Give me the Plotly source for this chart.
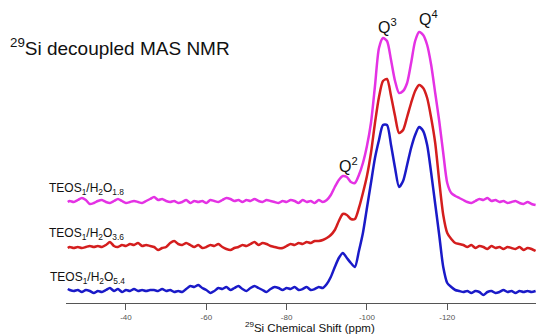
import plotly.graph_objects as go

# chemical shift grid (ppm)
shift_ppm = [-25.5, -26, -27, -28, -29, -30, -31, -32, -33, -34, -35, -36, -37, -38, -39, -40,
             -41, -42, -43, -44, -45, -46, -47, -48, -49, -50, -51, -52, -53, -54, -55, -56,
             -57, -58, -59, -60, -61, -62, -63, -64, -65, -66, -67, -68, -69, -70, -71, -72,
             -73, -74, -75, -76, -77, -78, -79, -80, -81, -82, -83, -84, -85, -86, -87, -88,
             -89, -90, -91, -92, -93, -94, -95, -96, -97, -98, -99, -100, -101, -102, -103, -104,
             -105, -106, -107, -108, -109, -110, -111, -112, -113, -114, -115, -116, -117, -118, -119, -120,
             -121, -122, -123, -124, -125, -126, -127, -128, -129, -130, -131, -132, -133, -134, -135, -136,
             -137, -138, -139, -140, -141, -142]

# intensities (stacked, arbitrary units including vertical offset)
teos_h2o_1_8 = [101, 102, 101, 103, 105, 103, 99, 100, 102, 103, 101, 100, 102, 104, 102, 100,
                101, 102, 101, 100, 102, 104, 106, 103, 104, 102, 101, 102, 100, 101, 103, 100,
                102, 101, 102, 100, 103, 102, 101, 103, 105, 104, 102, 103, 101, 103, 102, 104,
                102, 101, 103, 102, 101, 100, 102, 101, 103, 102, 100, 103, 101, 102, 100, 103,
                101, 103, 108, 116, 123, 127, 126, 121, 120, 128, 140, 157, 180, 217, 255, 265,
                262, 243, 222, 210, 212, 220, 240, 262, 271, 268, 258, 238, 210, 182, 150, 120,
                110, 107, 105, 103, 101, 100, 102, 104, 103, 105, 102, 103, 101, 102, 100, 101,
                102, 100, 99, 101, 99, 98]

teos_h2o_3_6 = [55, 56, 55, 56, 55, 56, 57, 56, 57, 56, 58, 61, 57, 56, 58, 57,
                59, 58, 60, 57, 58, 57, 56, 53, 55, 56, 60, 62, 59, 58, 60, 58,
                56, 58, 55, 56, 58, 57, 59, 56, 54, 53, 55, 56, 58, 57, 59, 61,
                58, 60, 59, 57, 56, 55, 55, 57, 59, 58, 60, 59, 61, 60, 62, 62,
                63, 65, 68, 73, 82, 89, 88, 84, 84, 95, 110, 127, 150, 180, 206, 222,
                224, 207, 187, 170, 173, 186, 200, 212, 218, 215, 205, 185, 160, 122, 88, 70,
                64, 60, 59, 58, 56, 58, 55, 57, 56, 54, 57, 55, 56, 54, 56, 55,
                54, 56, 53, 55, 54, 52]

teos_h2o_5_4 = [14, 13, 12, 13, 11, 13, 12, 10, 12, 11, 13, 15, 12, 14, 11, 13,
                12, 14, 12, 13, 12, 13, 13, 12, 14, 12, 13, 11, 12, 11, 14, 17,
                16, 18, 15, 13, 10, 12, 15, 14, 16, 13, 15, 17, 14, 12, 15, 17,
                15, 13, 11, 14, 16, 15, 13, 15, 14, 16, 13, 14, 16, 13, 14, 16,
                15, 19, 26, 36, 45, 50, 45, 40, 36, 52, 70, 95, 120, 145, 163, 178,
                178, 158, 135, 116, 122, 138, 155, 168, 176, 172, 158, 130, 99, 68, 36, 20,
                16, 13, 12, 11, 12, 10, 12, 11, 8, 11, 12, 10, 11, 13, 11, 12,
                10, 12, 11, 12, 11, 12]

tick_vals = [-40, -60, -80, -100, -120]
tick_text = ["-40", "-60", "-80", "-100", "-120"]

series = [
    ("TEOS<sub>1</sub>/H<sub>2</sub>O<sub>1.8</sub>", teos_h2o_1_8, "#E432E4"),
    ("TEOS<sub>1</sub>/H<sub>2</sub>O<sub>3.6</sub>", teos_h2o_3_6, "#D41E1E"),
    ("TEOS<sub>1</sub>/H<sub>2</sub>O<sub>5.4</sub>", teos_h2o_5_4, "#1A1AC8"),
]

FONT = "Liberation Sans, Arial, sans-serif"

fig = go.Figure()
for name, vals, color in series:
    fig.add_trace(go.Scatter(x=shift_ppm, y=vals, mode="lines", name=name,
                             line=dict(color=color, width=2.5, shape="spline", smoothing=0.7),
                             showlegend=False, hoverinfo="skip"))

annotations = [
    dict(text="<sup>29</sup>Si decoupled MAS NMR", x=-0.1234, y=0.845, xanchor="left", yanchor="middle",
         font=dict(size=19, color="#111")),
    dict(text="Q<sup>3</sup>", x=0.683, y=0.914, xanchor="center", yanchor="middle", font=dict(size=16, color="#111")),
    dict(text="Q<sup>4</sup>", x=0.772, y=0.941, xanchor="center", yanchor="middle", font=dict(size=16, color="#111")),
    dict(text="Q<sup>2</sup>", x=0.602, y=0.455, xanchor="center", yanchor="middle", font=dict(size=16, color="#111")),
    dict(text=series[0][0], x=-0.0404, y=0.376, xanchor="left", yanchor="middle", font=dict(size=12, color="#111")),
    dict(text=series[1][0], x=-0.0404, y=0.228, xanchor="left", yanchor="middle", font=dict(size=12, color="#111")),
    dict(text=series[2][0], x=-0.0380, y=0.0825, xanchor="left", yanchor="middle", font=dict(size=12, color="#111")),
    dict(text="<sup>29</sup>Si Chemical Shift (ppm)", x=0.519, y=-0.108, xanchor="center", yanchor="bottom",
         font=dict(size=11.5, color="#111")),
]
for a in annotations:
    a.update(xref="paper", yref="paper", showarrow=False)

fig.update_layout(
    width=536, height=336,
    margin=dict(l=66, r=0, t=0, b=33),
    paper_bgcolor="white", plot_bgcolor="white",
    font=dict(family=FONT),
    annotations=annotations,
    xaxis=dict(range=[-25.06, -142.1], showline=True, linecolor="#555", linewidth=1,
               ticks="outside", ticklen=6, tickcolor="#555", tickvals=tick_vals, ticktext=tick_text,
               tickfont=dict(size=8, color="#555"), showgrid=False, zeroline=False),
    yaxis=dict(range=[0, 303], visible=False, showgrid=False, zeroline=False),
)

fig.write_html("out.html", config={"displayModeBar": False, "staticPlot": True},
               post_script="document.body.style.margin='0';document.body.style.overflow='hidden';")
